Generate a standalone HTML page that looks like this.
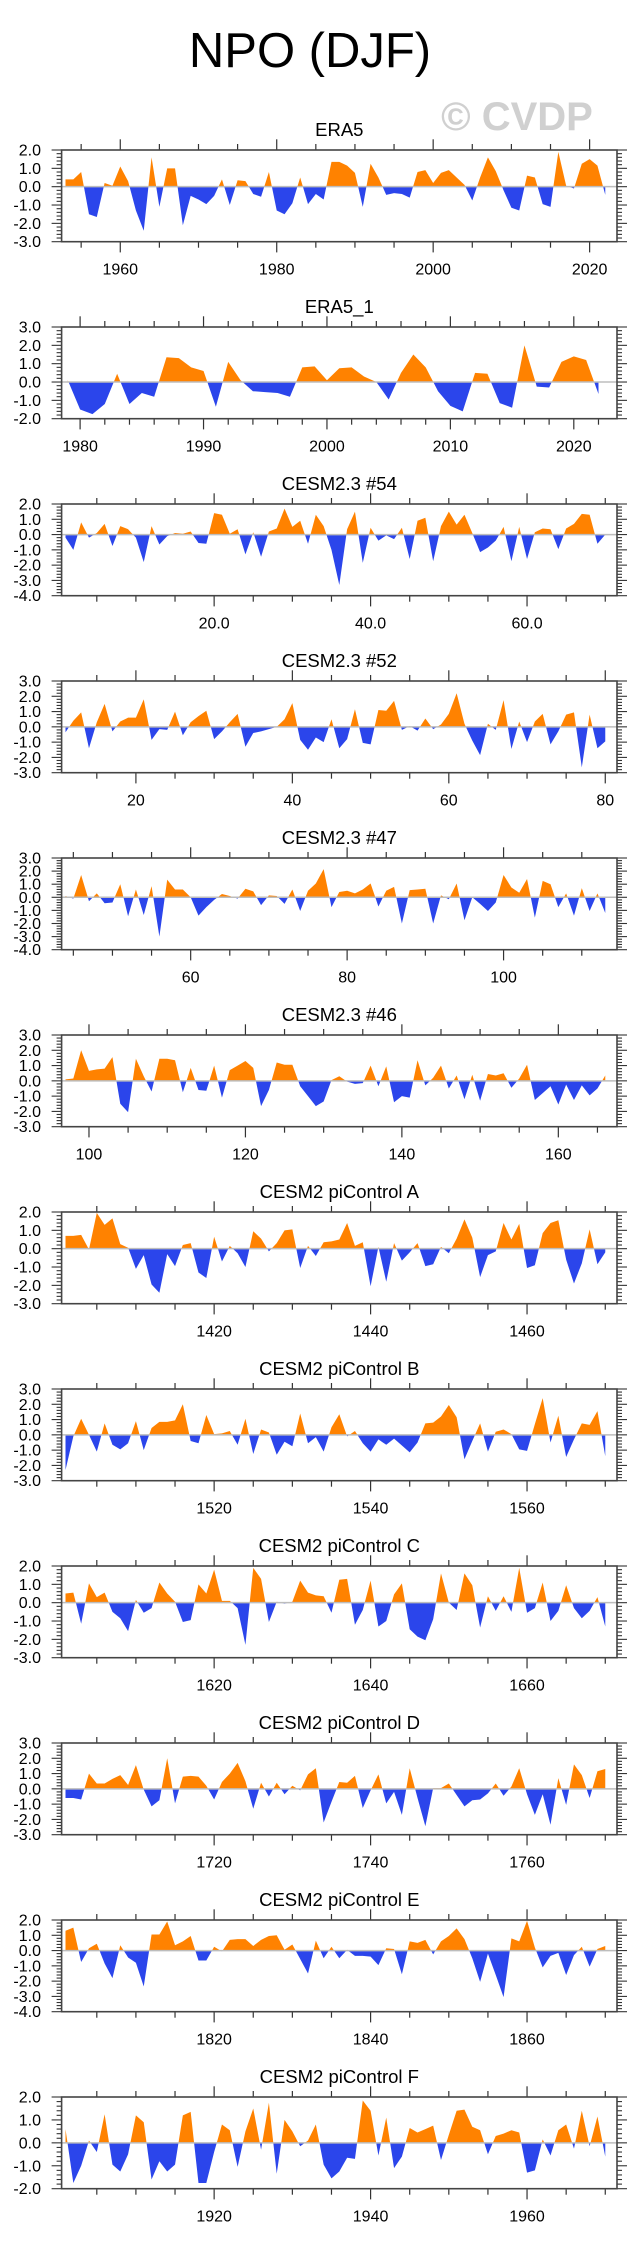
<!DOCTYPE html>
<html>
<head>
<meta charset="utf-8">
<style>
  html,body{margin:0;padding:0;background:#fff;}
  svg{display:block;}
  text{font-family:"Liberation Sans",Arial,sans-serif;}
</style>
</head>
<body>
<svg id="chart" width="641" height="2253" viewBox="0 0 641 2253" xmlns="http://www.w3.org/2000/svg">
  <text x="310" y="67" font-size="49" text-anchor="middle" fill="#000">NPO (DJF)</text>
  <text x="517" y="130" font-size="40" font-weight="bold" text-anchor="middle" fill="#d0d0d0">© CVDP</text>
</svg>
<script>
const panelTitles = ["ERA5","ERA5_1","CESM2.3 #54","CESM2.3 #52","CESM2.3 #47","CESM2.3 #46","CESM2 piControl A","CESM2 piControl B","CESM2 piControl C","CESM2 piControl D","CESM2 piControl E","CESM2 piControl F"];
const panelStarts = [1953,1979,1,11,44,97,1401,1501,1601,1701,1801,1901];
const panelYMax = [2,3,2,3,3,3,2,3,2,3,2,2];
const panelYMin = [-3,-2,-4,-3,-4,-3,-3,-3,-3,-3,-4,-2];
const panelMinorStep = [5,2,5,5,5,5,5,5,5,5,5,5];
const xTickLabels = [
  [1960,1980,2000,2020],[1980,1990,2000,2010,2020],[20,40,60],[20,40,60,80],[60,80,100],[100,120,140,160],
  [1420,1440,1460],[1520,1540,1560],[1620,1640,1660],[1720,1740,1760],[1820,1840,1860],[1920,1940,1960]
];
const xTickDecimals = [0,0,1,0,0,0,0,0,0,0,0,0];

const era5Vals = [0.4,0.4,0.8,-1.5,-1.65,0.2,0.05,1.1,0.3,-1.3,-2.4,1.6,-1.1,1.0,1.0,-2.1,-0.5,-0.7,-0.95,-0.5,0.4,-1.0,0.35,0.3,-0.4,-0.55,0.8,-1.3,-1.5,-0.9,0.5,-0.95,-0.4,-0.7,1.35,1.35,1.15,0.75,-1.1,1.25,0.5,-0.45,-0.35,-0.4,-0.6,0.8,0.9,0.2,0.75,0.9,0.5,0.1,-0.75,0.5,1.6,0.85,-0.2,-1.15,-1.3,0.6,0.5,-0.95,-1.1,1.9,0.05,-0.1,1.25,1.5,1.15,-0.45];
const era5bVals = [0.1,-1.5,-1.75,-1.2,0.45,-1.2,-0.6,-0.8,1.35,1.3,0.8,0.6,-1.35,1.1,0.1,-0.5,-0.55,-0.6,-0.8,0.8,0.85,0.1,0.75,0.8,0.3,0.0,-0.95,0.5,1.5,0.8,-0.5,-1.3,-1.6,0.5,0.45,-1.15,-1.4,2.0,-0.25,-0.3,1.1,1.4,1.2,-0.65];
const m54Vals = [-0.2,-1.0,0.8,-0.2,0.1,0.7,-0.75,0.55,0.35,-0.2,-1.8,0.55,-0.65,-0.1,0.1,0.05,0.2,-0.55,-0.6,1.4,1.3,0.05,0.35,-1.3,0.15,-1.45,0.2,0.4,1.7,0.5,0.9,-0.6,1.3,0.55,-1.0,-3.3,0.35,1.5,-1.85,0.45,-0.4,-0.05,-0.3,0.45,-1.6,0.9,1.1,-1.75,0.55,1.5,0.65,1.3,0.1,-1.15,-0.85,-0.4,0.5,-1.75,0.5,-1.6,0.15,0.4,0.35,-0.95,0.4,0.7,1.35,1.3,-0.6,0.0];
const m52Vals = [-0.35,0.4,0.95,-1.4,0.3,1.5,-0.3,0.35,0.6,0.6,1.8,-0.85,-0.15,-0.2,1.0,-0.55,0.3,0.7,1.05,-0.8,-0.3,0.3,0.85,-1.3,-0.4,-0.3,-0.15,0.0,0.5,1.55,-0.85,-1.5,-0.7,-1.0,0.5,-1.4,-0.8,1.15,-1.05,-1.15,1.1,1.05,1.7,-0.2,0.05,-0.25,0.55,-0.15,0.15,0.85,2.2,0.2,-0.9,-1.85,0.2,-0.2,1.75,-1.45,0.35,-1.0,0.35,0.85,-1.15,-0.3,0.8,0.95,-2.65,0.8,-1.4,-0.95];
const m47Vals = [0.1,-0.1,1.7,-0.3,0.3,-0.45,-0.4,1.0,-1.45,0.6,-1.35,0.85,-3.0,1.35,0.6,0.6,0.0,-1.4,-0.75,-0.2,0.25,0.1,-0.1,0.65,0.45,-0.6,0.15,0.1,-0.5,0.6,-1.05,0.5,1.05,2.15,-0.75,0.4,0.5,0.3,0.6,1.05,-0.7,0.5,0.8,-2.0,0.55,0.6,0.65,-2.0,0.15,-0.15,1.05,-1.75,0.0,-0.5,-1.05,-0.4,1.7,0.75,0.35,1.4,-1.55,1.25,1.0,-0.75,0.3,-1.4,0.7,-1.05,0.3,-1.2];
const m46Vals = [0.1,0.15,2.0,0.65,0.75,0.8,1.55,-1.5,-2.05,1.45,0.3,-0.7,1.45,1.45,1.35,-0.75,0.85,-0.6,-0.65,1.0,-1.1,0.7,1.0,1.3,0.85,-1.65,-0.6,1.2,1.05,1.05,-0.35,-1.0,-1.65,-1.35,0.05,0.3,-0.05,-0.2,-0.15,1.0,-0.35,0.95,-1.4,-1.0,-1.1,1.35,-0.3,0.2,1.0,-0.5,0.35,-1.2,0.4,-1.3,0.45,0.35,0.5,-0.45,0.15,1.05,-1.25,-0.8,-0.35,-1.55,-0.25,-1.25,-0.3,-0.95,-0.5,0.35];
const piAVals = [0.7,0.7,0.75,-0.05,1.95,1.3,1.65,0.25,0.05,-1.1,-0.35,-1.95,-2.4,-0.3,-0.95,0.2,0.3,-1.3,-1.6,0.65,-0.7,0.15,-0.25,-1.0,0.95,0.55,-0.15,0.3,1.0,1.05,-1.05,0.15,-0.4,0.35,0.4,0.5,1.4,0.15,0.35,-2.05,0.1,-1.8,0.3,-0.65,-0.2,0.3,-0.95,-0.85,0.1,-0.25,0.55,1.6,0.6,-1.55,-0.35,-0.15,1.4,0.5,1.35,-1.05,-0.9,0.85,1.4,1.55,-0.6,-1.9,-0.8,1.05,-0.85,-0.2];
const piBVals = [-2.3,-0.1,1.05,0.0,-1.1,0.75,-0.65,-0.95,-0.55,0.9,-1.0,0.45,0.85,0.85,0.95,2.0,-0.4,-0.55,1.3,0.05,0.1,0.25,-0.65,1.05,-1.25,0.35,0.15,-1.3,-0.45,-0.75,1.4,-0.55,-0.15,-1.1,0.5,1.35,-0.1,0.25,-0.55,-1.1,-0.3,-0.65,-0.25,-0.7,-1.15,-0.5,0.75,0.8,1.2,1.95,1.15,-1.6,-0.4,0.75,-1.1,0.2,0.35,0.05,-0.95,-1.05,0.7,2.4,-0.5,1.25,-1.45,-0.3,0.75,0.65,1.55,-1.4];
const piCVals = [0.5,0.55,-1.15,1.05,0.3,0.55,-0.5,-0.85,-1.55,0.15,-0.55,-0.3,1.1,0.5,0.05,-1.05,-0.95,1.0,0.5,1.8,0.1,0.1,-0.3,-2.3,1.9,1.3,-1.05,0.05,-0.05,0.05,1.2,0.55,0.4,0.35,-0.55,1.25,1.3,-1.2,-0.4,1.2,-1.3,-1.0,0.45,1.05,-1.45,-1.85,-2.05,-0.9,1.6,0.0,-0.4,1.6,0.95,-1.35,0.35,-0.45,0.35,-0.5,1.9,-0.55,-0.3,1.1,-1.0,-0.45,0.95,-0.3,-0.85,-0.45,0.3,-1.3];
const piDVals = [-0.6,-0.6,-0.7,1.0,0.35,0.35,0.65,0.9,0.25,1.55,-0.05,-1.15,-0.75,2.0,-0.95,0.8,0.85,0.8,0.2,-0.7,0.45,1.0,1.7,0.5,-1.3,0.4,-0.5,0.4,-0.35,0.2,-0.1,0.95,1.35,-2.2,-0.85,0.45,0.4,0.85,-1.25,-0.1,0.95,-0.95,-0.2,-1.7,1.35,-0.6,-2.45,0.05,0.05,0.35,-0.4,-1.15,-0.75,-0.7,-0.3,0.35,-0.45,0.15,1.35,-0.35,-1.7,-0.35,-2.35,0.7,-1.05,1.6,0.9,-0.6,1.15,1.3];
const piEVals = [1.3,1.5,-0.75,0.15,0.45,-0.85,-1.8,0.35,-0.45,-0.8,-2.35,1.05,1.05,1.9,0.35,0.6,0.95,-0.65,-0.65,0.25,-0.05,0.7,0.75,0.75,0.3,0.7,0.95,1.0,0.05,0.4,-0.55,-1.5,0.65,-0.5,0.25,-0.5,0.05,-0.35,-0.35,-0.4,-0.95,0.15,0.1,-1.55,0.6,0.5,0.7,-0.25,0.6,0.95,1.45,0.75,-0.5,-2.05,-0.2,-1.6,-3.05,0.8,0.6,1.95,0.2,-1.1,-0.35,-0.15,-1.6,-0.3,0.25,-1.05,0.1,0.3];
const piFVals = [0.6,-1.75,-1.0,0.1,-0.4,1.25,-0.95,-1.25,-0.5,1.2,0.9,-1.6,-0.8,-1.25,-0.95,1.2,1.35,-1.75,-1.75,-0.4,0.8,0.55,-1.05,0.5,1.5,-0.3,1.75,-1.35,1.0,0.5,-0.15,0.1,0.8,-0.95,-1.55,-1.25,-0.65,-0.7,1.85,1.4,-0.55,1.1,-1.1,-0.6,0.65,0.45,0.6,0.75,-0.75,0.35,1.4,1.45,0.7,0.55,-0.5,0.3,0.4,0.55,0.45,-1.3,-1.2,0.15,-0.55,0.55,0.8,-0.25,1.4,-0.15,1.15,-0.6];

const panelValues = [era5Vals,era5bVals,m54Vals,m52Vals,m47Vals,m46Vals,piAVals,piBVals,piCVals,piDVals,piEVals,piFVals];

const NS = "http://www.w3.org/2000/svg";
const svg = document.getElementById("chart");
const BOX_L = 61.6, BOX_R = 617, TOP0 = 150, SPACING = 177, BOX_H = 91.7;
const ORANGE = "#ff8200", BLUE = "#2b45eb";

function mk(tag, attrs, parent) {
  const e = document.createElementNS(NS, tag);
  for (const k in attrs) e.setAttribute(k, attrs[k]);
  (parent || svg).appendChild(e);
  return e;
}

panelValues.forEach(function (vals, p) {
  const top = TOP0 + p * SPACING, bot = top + BOX_H;
  const first = panelStarts[p], n = vals.length;
  const xMin = first - 0.5, xMax = first + n - 1 + 1.5;
  const yMax = panelYMax[p], yMin = panelYMin[p];
  const xs = v => BOX_L + (v - xMin) / (xMax - xMin) * (BOX_R - BOX_L);
  const ys = v => top + (yMax - v) / (yMax - yMin) * BOX_H;

  const g = mk("g", {});
  
  

  const t = mk("text", {x: (BOX_L + BOX_R) / 2, y: top - 14, "font-size": 18.5, "text-anchor": "middle", fill: "#000"}, g);
  t.textContent = panelTitles[p];
  
  

  // build points with zero crossings
  const pts = [];
  for (let i = 0; i < n; i++) {
    const x = first + i, v = vals[i];
    if (i > 0) {
      const pv = vals[i - 1];
      if ((pv > 0 && v < 0) || (pv < 0 && v > 0)) {
        const f = pv / (pv - v);
        pts.push([x - 1 + f, 0]);
      }
    }
    pts.push([x, v]);
  }
  const x0 = xs(pts[0][0]), x1 = xs(pts[pts.length - 1][0]), y0 = ys(0);
  let posD = "M" + x0 + "," + y0, negD = "M" + x0 + "," + y0;
  pts.forEach(function (q) {
    posD += " L" + xs(q[0]).toFixed(2) + "," + ys(Math.max(q[1], 0)).toFixed(2);
    negD += " L" + xs(q[0]).toFixed(2) + "," + ys(Math.min(q[1], 0)).toFixed(2);
  });
  posD += " L" + x1 + "," + y0 + " Z";
  negD += " L" + x1 + "," + y0 + " Z";
  const pa = mk("path", {d: posD, fill: ORANGE, stroke: "none"}, g);
  
  
  const na = mk("path", {d: negD, fill: BLUE, stroke: "none"}, g);
  
  

  const zl = mk("line", {x1: BOX_L, x2: BOX_R, y1: y0, y2: y0, stroke: "#bdbdbd", "stroke-width": 1.5}, g);
  
  

  // ticks
  const tk = "#333";
  const labels = xTickLabels[p];
  const step = panelMinorStep[p];
  for (let v = Math.ceil(xMin / step) * step; v <= xMax; v += step) {
    const isMajor = labels.indexOf(v) >= 0;
    const L = isMajor ? 10.7 : 6;
    const x = xs(v);
    mk("line", {x1: x, x2: x, y1: top, y2: top - L, stroke: tk, "stroke-width": 1.2}, g);
    mk("line", {x1: x, x2: x, y1: bot, y2: bot + L, stroke: tk, "stroke-width": 1.2}, g);
  }
  labels.forEach(function (v) {
    const lt = mk("text", {x: xs(v), y: bot + 33, "font-size": 16, "text-anchor": "middle", fill: "#000"}, g);
    lt.textContent = v.toFixed(xTickDecimals[p]);
    
    
  });
  for (let k = Math.round(yMin * 5); k <= Math.round(yMax * 5); k++) {
    const v = k / 5, y = ys(v);
    const isMajor = k % 5 === 0;
    const L = isMajor ? 10 : 5;
    mk("line", {x1: BOX_L, x2: BOX_L - L, y1: y, y2: y, stroke: tk, "stroke-width": 1.1}, g);
    mk("line", {x1: BOX_R, x2: BOX_R + L, y1: y, y2: y, stroke: tk, "stroke-width": 1.1}, g);
    if (isMajor) {
      const yl = mk("text", {x: 41, y: y + 5.5, "font-size": 16, "text-anchor": "end", fill: "#000"}, g);
      yl.textContent = v.toFixed(1);
      
      
    }
  }
  const box = mk("rect", {x: BOX_L, y: top, width: BOX_R - BOX_L, height: BOX_H, fill: "none", stroke: "#444", "stroke-width": 1.6}, g);
  
  
});
</script>
</body>
</html>
